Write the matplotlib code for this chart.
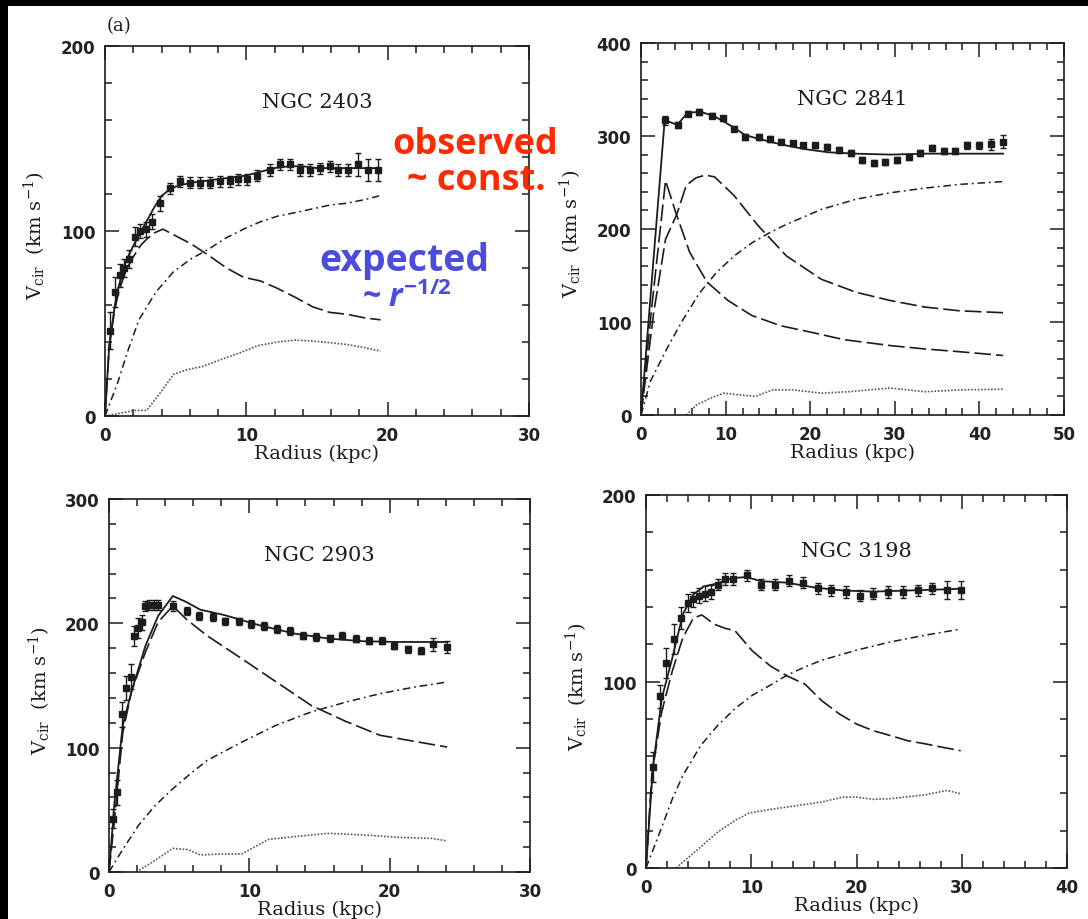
import matplotlib
matplotlib.use("Agg")
import matplotlib.pyplot as plt
from matplotlib.patches import Rectangle
from matplotlib.ticker import MultipleLocator

plt.rcParams['mathtext.fontset'] = 'dejavuserif'

# ---------------- NGC 2403 ----------------
r1_obs = [0.38, 0.72, 1.04, 1.36, 1.7, 2.15, 2.5, 2.88, 3.3, 3.86, 4.6, 5.31, 6.02, 6.72, 7.43,
          8.14, 8.85, 9.44, 10.03, 10.74, 11.68, 12.38, 13.09, 13.8, 14.5, 15.2, 15.9, 16.5,
          17.2, 17.9, 18.6, 19.3]
v1_obs = [46, 67, 76, 80, 85, 97, 100, 101, 105, 115, 123, 127, 126, 126, 126, 127, 127, 128,
          128, 130, 133, 136, 136, 133, 133, 134, 135, 133, 133, 136, 133, 133]
e1_obs = [10, 8, 6, 5, 5, 5, 4, 4, 4, 4, 3, 3, 3, 3, 3, 3, 3, 3, 3, 3, 3, 3, 3, 3, 3, 3, 3, 3,
          3, 6, 6, 6]
r1_tot = [0, 0.3, 0.7, 1.0, 1.5, 2.0, 2.5, 3.0, 3.5, 4.0, 4.5, 5.0, 6.0, 7.0, 8.0, 9.0, 10.0,
          11.0, 12.0, 13.0, 14.0, 15.0, 16.0, 17.0, 18.0, 19.4]
v1_tot = [0, 38, 60, 71, 84, 92, 99, 106, 113, 119, 122, 124, 126, 127, 128, 129, 130, 132,
          134, 135, 135, 134, 134, 134, 134, 134]
r1_disk = [0, 0.3, 0.7, 1.0, 1.5, 2.0, 2.5, 3.0, 3.5, 4.1, 4.85, 6.1, 7.3, 8.6, 9.8, 11.0, 12.2,
           13.5, 14.7, 15.9, 17.1, 18.4, 19.5]
v1_disk = [0, 38, 58, 68, 79, 86, 92, 96, 99, 101, 98, 93, 87, 80, 75, 73, 69, 64, 59, 56, 55,
           53, 52]
r1_halo = [0, 0.9, 1.65, 2.4, 3.6, 4.85, 6.1, 7.3, 8.5, 9.8, 11.0, 12.2, 13.5, 14.7, 15.9, 17.1,
           18.4, 19.4]
v1_halo = [0, 18, 36, 52, 67, 78, 85, 90, 96, 101, 105, 108, 110, 112, 114, 115, 117, 119]
r1_gas = [0, 2.1, 2.95, 4.1, 4.85, 5.8, 7.0, 8.0, 9.5, 10.8, 12.2, 13.45, 14.7, 15.9, 17.1,
          18.35, 19.5]
v1_gas = [0, 3, 3, 14.5, 22.5, 25, 27, 30, 34, 38, 40, 41, 40.5, 39.6, 38.7, 37, 35]

# ---------------- NGC 2841 ----------------
r2_obs = [2.8, 4.33, 5.56, 6.9, 8.43, 9.66, 11.0, 12.3, 13.9, 15.2, 16.6, 18.0, 19.2, 20.6,
          22.0, 23.4, 24.8, 26.1, 27.5, 28.9, 30.3, 31.7, 33.0, 34.4, 35.8, 37.1, 38.5, 39.9,
          41.4, 42.8]
v2_obs = [317, 312, 324, 326, 322, 319, 308, 299, 299, 297, 294, 292, 290, 290, 288, 285,
          282, 274, 271, 272, 274, 277, 282, 287, 284, 284, 290, 290, 291, 294]
e2_obs = [5, 3, 3, 3, 3, 3, 3, 3, 3, 3, 3, 3, 3, 3, 3, 3, 3, 3, 3, 3, 3, 3, 3, 3, 3, 3, 4, 4,
          6, 7]
r2_tot = [0, 2.8, 4.3, 5.5, 7.0, 8.5, 9.7, 11.0, 12.3, 13.9, 16.5, 19.3, 22.1, 25.4, 29.5, 33.6,
          37.7, 42.8]
v2_tot = [0, 317, 312, 325, 326, 322, 316, 309, 301, 297, 291, 286, 282.5, 281, 280, 281, 281,
          281]
r2_bul = [0, 1.2, 2.9, 4.1, 5.75, 7.8, 10.3, 13.1, 16.5, 20.1, 24.0, 29.6, 33.6, 37.7, 42.8]
v2_bul = [0, 110, 252, 218, 175, 143, 123, 107, 96, 89, 81, 74.5, 71, 68, 64]
r2_disk = [0, 1.5, 2.9, 4.2, 5.35, 6.5, 7.6, 8.7, 11.0, 13.9, 17.2, 21.3, 25.4, 29.5, 33.6,
           37.7, 42.8]
v2_disk = [0, 110, 189, 215, 247, 255, 258, 256, 236, 203, 171, 146, 132, 123, 116, 112, 110]
r2_halo = [0, 1.1, 3.1, 4.8, 6.9, 8.9, 11.0, 13.1, 15.2, 17.2, 21.3, 25.4, 29.5, 33.6, 37.7,
           42.8]
v2_halo = [0, 36, 72, 100, 131, 153, 171, 185, 196, 205, 221, 232, 239, 244, 248, 251]
r2_gas = [5.35, 6.6, 8.2, 9.8, 11.5, 13.5, 15.6, 18.0, 21.3, 24.5, 29.5, 33.6, 37.7, 42.8]
v2_gas = [0, 11, 18, 23.5, 21.7, 20, 27, 27, 23.5, 25, 29, 25, 27, 27.7]

# ---------------- NGC 2903 ----------------
r3_obs = [0.25, 0.57, 0.91, 1.23, 1.55, 1.8, 2.04, 2.34, 2.58, 2.88, 3.2, 3.52, 4.55, 5.54,
          6.4, 7.4, 8.24, 9.23, 10.1, 11.07, 11.94, 12.92, 13.85, 14.77, 15.75, 16.6, 17.6,
          18.53, 19.44, 20.3, 21.3, 22.2, 23.1, 24.1]
v3_obs = [43, 64, 127, 148, 157, 190, 196, 201, 214, 215, 215, 215, 214, 210, 206, 205, 201.5,
          201.5, 199.6, 198, 195.6, 194, 190, 189, 188, 190, 187.6, 186, 186, 182, 179, 178,
          183, 181]
e3_obs = [8, 10, 10, 10, 10, 8, 8, 6, 4, 4, 4, 4, 4, 3, 3, 3, 3, 3, 3, 3, 3, 3, 3, 3, 3, 3, 3,
          3, 3, 3, 3, 3, 5, 5]
r3_tot = [0, 0.4, 0.98, 1.6, 2.6, 3.5, 4.55, 5.54, 6.5, 8.24, 10.7, 13.2, 15.6, 18.1, 20.6, 24.1]
v3_tot = [0, 57, 118, 145, 182, 206, 222, 217, 211, 206.6, 198.5, 191.8, 187.8, 185.6, 185, 185]
r3_disk = [0, 0.4, 0.98, 1.6, 2.6, 3.5, 4.55, 5.54, 7.0, 9.47, 11.9, 14.4, 16.9, 19.3, 21.8, 24.1]
v3_disk = [0, 43, 112, 145, 177, 201, 214, 203, 190, 171.5, 153, 134, 121, 110, 105, 100.5]
r3_halo = [0, 0.86, 2.1, 3.3, 4.55, 5.8, 7.0, 9.47, 11.9, 14.4, 16.9, 19.3, 21.8, 24.1]
v3_halo = [0, 16, 37.5, 53.6, 67, 79, 89.8, 104.5, 118, 128.7, 136.7, 143.4, 148.8, 152.8]
r3_gas = [1.95, 3.1, 4.55, 5.66, 6.5, 8.0, 9.47, 10.4, 11.4, 13.2, 15.6, 18.1, 20.6, 23.0, 24.1]
v3_gas = [0, 8, 19, 18, 13.7, 14.5, 14.5, 20.4, 26.3, 28.4, 31.1, 29.8, 27.9, 27, 25]

# ---------------- NGC 3198 ----------------
r4_obs = [0.66, 1.31, 1.87, 2.7, 3.36, 4.02, 4.51, 5.0, 5.56, 6.16, 6.82, 7.47, 8.3, 9.55,
          10.94, 12.25, 13.57, 14.9, 16.3, 17.6, 19.0, 20.3, 21.6, 23.0, 24.4, 25.8, 27.2,
          28.6, 29.9]
v4_obs = [54, 92, 110, 123, 134, 142, 144, 146, 147, 148, 152, 155, 155, 157, 152, 152, 154,
          153, 150, 149, 148, 146, 147, 148, 148, 149, 150, 149, 149]
e4_obs = [8, 6, 8, 8, 6, 5, 4, 4, 4, 4, 3, 3, 3, 3, 3, 3, 3, 3, 3, 3, 3, 3, 3, 3, 3, 3, 3, 5, 5]
r4_tot = [0, 0.66, 1.5, 2.5, 3.5, 4.5, 5.5, 6.8, 8.1, 9.55, 10.94, 13.4, 16.0, 18.7, 21.6, 25.0,
          29.9]
v4_tot = [0, 54, 91, 112.6, 136, 146.7, 151, 152.6, 155.4, 156, 153.8, 153, 150.4, 148.8,
          148.2, 148.8, 149.7]
r4_disk = [0, 0.55, 1.5, 2.5, 3.5, 4.5, 5.3, 6.5, 7.47, 8.46, 10.1, 11.8, 13.4, 15.1, 16.7,
           18.4, 20.0, 21.6, 23.3, 24.9, 26.6, 28.2, 29.9]
v4_disk = [0, 50, 84, 105.6, 123.5, 134, 135.7, 130.7, 128.6, 127.2, 116.4, 108.4, 103, 98.6,
           89.7, 82.5, 77.2, 73.6, 70.9, 68.2, 66.5, 64.7, 62.9]
r4_halo = [0, 1.2, 2.5, 3.5, 5.2, 6.82, 8.46, 10.1, 11.8, 13.4, 15.1, 16.7, 20.0, 23.3, 26.6,
           29.9]
v4_halo = [0, 17.5, 37, 49.6, 65.7, 76.5, 85.5, 92.6, 98, 103.4, 107.8, 111.4, 116.8, 121.3,
           124.9, 128.1]
r4_gas = [2.87, 3.5, 5.2, 6.82, 8.46, 9.8, 11.8, 13.4, 16.7, 18.7, 20.0, 21.6, 23.3, 26.6,
          28.6, 29.9]
v4_gas = [0, 3.2, 11.3, 19.3, 25.5, 29.5, 31.4, 32.7, 35.4, 38, 38, 36.8, 37.2, 39.3, 41.6,
          39.8]

names = ["NGC 2403", "NGC 2841", "NGC 2903", "NGC 3198"]
xmax = [30, 50, 30, 40]
ymax = [200, 400, 300, 200]

W, H = 1088, 920
fig = plt.figure(figsize=(W / 100, H / 100), dpi=100, facecolor="black")
fig.patches.append(Rectangle((8 / W, 0), 1 - 8 / W, 1 - 7 / H, transform=fig.transFigure,
                             facecolor="white", edgecolor="none", zorder=-10))

# pixel boxes (left, top, right, bottom)
boxes = [(105, 47, 529, 417), (641, 44, 1064, 416), (109, 500, 530, 873), (646, 496, 1067, 869)]

ink = "#1c1c1c"
panels = [
    (r1_obs, v1_obs, e1_obs, r1_tot, v1_tot, [(r1_disk, v1_disk)], r1_halo, v1_halo, r1_gas, v1_gas),
    (r2_obs, v2_obs, e2_obs, r2_tot, v2_tot, [(r2_bul, v2_bul), (r2_disk, v2_disk)], r2_halo, v2_halo, r2_gas, v2_gas),
    (r3_obs, v3_obs, e3_obs, r3_tot, v3_tot, [(r3_disk, v3_disk)], r3_halo, v3_halo, r3_gas, v3_gas),
    (r4_obs, v4_obs, e4_obs, r4_tot, v4_tot, [(r4_disk, v4_disk)], r4_halo, v4_halo, r4_gas, v4_gas),
]

for i, (p, box) in enumerate(zip(panels, boxes)):
    l, t, r, b = box
    ax = fig.add_axes([l / W, 1 - b / H, (r - l) / W, (b - t) / H])
    ro, vo, eo, rt, vt, dashed, rh, vh, rg, vg = p
    ax.plot(rt, vt, color=ink, lw=1.3, solid_joinstyle="round")
    for rd, vd in dashed:
        ax.plot(rd, vd, color=ink, lw=1.2, linestyle=(0, (10, 3)))
    ax.plot(rh, vh, color=ink, lw=1.1, linestyle=(0, (5, 2.5, 1.2, 2.5)))
    ax.plot(rg, vg, color="#555555", lw=1.2, linestyle=(0, (1, 1)))
    ax.errorbar(ro, vo, yerr=eo, fmt="s", ms=4.0, color=ink, ecolor=ink, elinewidth=1.0,
                capsize=2, capthick=1.0)
    ax.set_xlim(0, xmax[i])
    ax.set_ylim(0, ymax[i])
    ax.xaxis.set_major_locator(MultipleLocator(10))
    ax.xaxis.set_minor_locator(MultipleLocator(2))
    ax.yaxis.set_major_locator(MultipleLocator(100))
    ax.yaxis.set_minor_locator(MultipleLocator(20))
    ax.tick_params(which="both", direction="in", top=True, right=True, color=ink)
    ax.tick_params(which="major", length=10, width=1.1, labelsize=12, pad=7)
    ax.tick_params(which="minor", length=5, width=1.1)
    for lab in ax.get_xticklabels() + ax.get_yticklabels():
        lab.set_fontweight("bold")
        lab.set_color("#222222")
    for s in ax.spines.values():
        s.set_linewidth(1.2)
        s.set_color(ink)
    ax.set_xlabel("Radius (kpc)", fontfamily="DejaVu Serif", fontsize=14, color=ink)
    ax.xaxis.set_label_coords(0.5, -0.1)
    ax.xaxis.label.set_va("center")
    ax.set_ylabel(r"V$_{\rm cir}$  (km s$^{-1}$)", fontfamily="DejaVu Serif", fontsize=14,
                  color=ink)
    ax.yaxis.set_label_coords(-0.165, 0.49)
    ax.yaxis.label.set_va("center")
    ax.text(0.5, 0.85, names[i], transform=ax.transAxes, ha="center", va="center",
            fontfamily="DejaVu Serif", fontsize=15, color=ink)
    ax.set_facecolor("none")

fig.text(119 / W, 1 - 26 / H, "(a)", ha="center", va="center", fontfamily="DejaVu Serif",
         fontsize=13, color=ink)

plt.rcParams['mathtext.fontset'] = 'custom'
plt.rcParams['mathtext.rm'] = 'Open Sans:bold'
plt.rcParams['mathtext.it'] = 'Open Sans:italic:bold'
plt.rcParams['mathtext.bf'] = 'Open Sans:bold'

red = "#ff2a00"
blue = "#4c4cdc"
fig.text(475 / W, 1 - 154 / H, "observed", ha="center", va="baseline", color=red,
         fontfamily="Open Sans", fontweight="bold", fontsize=26, zorder=20)
fig.text(476 / W, 1 - 190 / H, "~ const.", ha="center", va="baseline", color=red,
         fontfamily="Open Sans", fontweight="bold", fontsize=26, zorder=20)
fig.text(404 / W, 1 - 271 / H, "expected", ha="center", va="baseline", color=blue,
         fontfamily="Open Sans", fontweight="bold", fontsize=27, zorder=20)
fig.text(407 / W, 1 - 307 / H, r"~ $r^{\mathbf{-1/2}}$", ha="center", va="baseline", color=blue,
         fontfamily="Open Sans", fontweight="bold", fontsize=23, zorder=20)

fig.savefig("out.png", dpi=100, facecolor=fig.get_facecolor())
